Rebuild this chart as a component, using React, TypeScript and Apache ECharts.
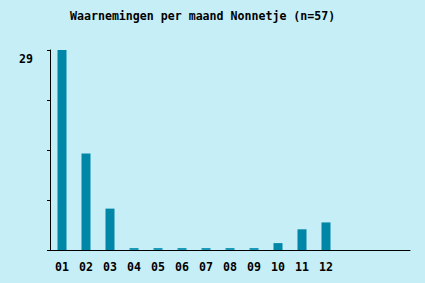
import React, { useEffect, useRef } from "react";
import * as echarts from "echarts";

const titleText = "Waarnemingen per maand Nonnetje (n=57)";
const months = ["01", "02", "03", "04", "05", "06", "07", "08", "09", "10", "11", "12", "", "", ""];
const counts = [29, 14, 6, 0, 0, 0, 0, 0, 0, 1, 3, 4];
const yMax = 29;

export default function App() {
  const ref = useRef<HTMLDivElement>(null);
  useEffect(() => {
    document.body.style.margin = "0";
    const chart = echarts.init(ref.current!, null, { renderer: "svg" });
    const font = "'DejaVu Sans Mono', monospace";
    chart.setOption({
      animation: false,
      backgroundColor: "#c6eef6",
      title: {
        text: titleText,
        left: 65,
        top: 5,
        textStyle: { fontFamily: font, fontSize: 11.6, fontWeight: "bold", color: "#000" },
      },
      grid: { left: 50, top: 50, width: 360, height: 200, containLabel: false },
      xAxis: {
        type: "category",
        data: months,
        boundaryGap: true,
        axisLine: { lineStyle: { color: "#000", width: 1 } },
        axisTick: {
          alignWithLabel: true,
          length: 3,
          interval: (i: number, v: string) => v !== "",
          lineStyle: { color: "#000" },
        },
        axisLabel: {
          interval: 0,
          margin: 11,
          fontFamily: font,
          fontSize: 11.6,
          fontWeight: "bold",
          color: "#000",
        },
        splitLine: { show: false },
      },
      yAxis: {
        type: "value",
        min: 0,
        max: yMax,
        interval: yMax / 4,
        axisLine: { show: true, lineStyle: { color: "#000", width: 1 } },
        axisTick: { show: true, length: 3, lineStyle: { color: "#000" } },
        splitLine: { show: false },
        axisLabel: {
          margin: 17,
          fontFamily: font,
          fontSize: 11.6,
          fontWeight: "bold",
          color: "#000",
          verticalAlign: "top",
          padding: [3, 0, 0, 0],
          formatter: (v: number) => (Math.abs(v - yMax) < 1e-6 ? String(yMax) : ""),
        },
      },
      series: [
        {
          type: "bar",
          barWidth: 9,
          barMinHeight: 2,
          data: counts.map((v) => ({
            value: v,
            itemStyle: { color: v === 0 ? "#1a9ab8" : "#0087a8" },
          })),
        },
      ],
    });
    return () => chart.dispose();
  }, []);
  return <div ref={ref} style={{ width: 425, height: 283 }} />;
}
